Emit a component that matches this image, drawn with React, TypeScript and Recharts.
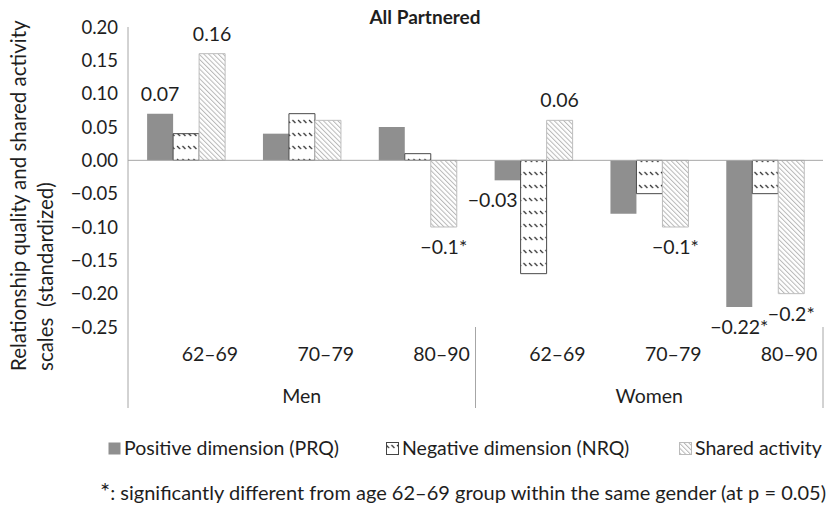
import React from 'react';
import { BarChart, Bar, XAxis, YAxis, ReferenceLine, LabelList } from 'recharts';

// categories (two-level axis: age group within gender)
const ageGroups = ['62–69', '70–79', '80–90', '62–69', '70–79', '80–90'];
const genders = ['Men', 'Men', 'Men', 'Women', 'Women', 'Women'];

// series values (standardized scales)
const prqValues = [0.07, 0.04, 0.05, -0.03, -0.08, -0.22];
const nrqValues = [0.04, 0.07, 0.01, -0.17, -0.05, -0.05];
const sharedValues = [0.16, 0.06, -0.1, 0.06, -0.1, -0.2];

// data labels shown in the figure ('' = none)
const prqLabels = ['0.07', '', '', '−0.03', '', '−0.22*'];
const nrqLabels = ['', '', '', '', '', ''];
const sharedLabels = ['0.16', '', '−0.1*', '0.06', '−0.1*', '−0.2*'];

const yTicks = [0.2, 0.15, 0.1, 0.05, 0, -0.05, -0.1, -0.15, -0.2, -0.25];
const seriesNames = ['Positive dimension (PRQ)', 'Negative dimension (NRQ)', 'Shared activity'];

const W = 827;
const H = 507;
const PLOT_LEFT = 128;
const PLOT_RIGHT = 823;
const PLOT_TOP = 27;
const PLOT_BOTTOM = 327;
const Y_AXIS_W = 60;
const X_AXIS_H = 30;
const FONT = 'Lato, "Open Sans", sans-serif';
const FS = 19.5;
const TEXT = '#1e1e1e';
const AXIS = '#a6a6a6';

const data = ageGroups.map((age, i) => ({
  key: `${genders[i]}-${age}`,
  age,
  gender: genders[i],
  prq: prqValues[i],
  nrq: nrqValues[i],
  shared: sharedValues[i],
}));

const fmtTick = (v: number) => (v < 0 ? '−' + Math.abs(v).toFixed(2) : v.toFixed(2));

const CategoryTick = (props: any) => {
  const { x, y, payload } = props;
  const i = payload.index;
  const half = (PLOT_RIGHT - PLOT_LEFT) / ageGroups.length / 2;
  const g = genders[i];
  const members = genders.map((v, j) => (v === g ? j : -1)).filter((j) => j >= 0);
  const isLast = members[members.length - 1] === i;
  const isMiddle = members[Math.floor(members.length / 2)] === i;
  const top = y - 8;
  return (
    <g>
      <text x={x + 24} y={y + 26} textAnchor="middle" fontFamily={FONT} fontSize={FS} fill={TEXT}>
        {ageGroups[i]}
      </text>
      {isMiddle && (
        <text x={x} y={y + 68} textAnchor="middle" fontFamily={FONT} fontSize={FS} fill={TEXT}>
          {g}
        </text>
      )}
      {i === 0 && <line x1={x - half} x2={x - half} y1={top} y2={top + 81} stroke={AXIS} />}
      {isLast && <line x1={x + half} x2={x + half} y1={top} y2={top + 81} stroke={AXIS} />}
    </g>
  );
};

const makeLabel = (texts: string[]) => (props: any) => {
  const { x, y, width, height, value, index } = props;
  const t = texts[index];
  if (!t) return null;
  const top = Math.min(y, y + height);
  const bottom = Math.max(y, y + height);
  const neg = value < 0;
  const short = bottom - top < 25;
  let tx = x + width / 2;
  let anchor: 'middle' | 'end' = 'middle';
  if (neg && short) {
    tx = x + width - 3;
    anchor = 'end';
  }
  const ty = neg ? bottom + 27 : top - 13;
  return (
    <text x={tx} y={ty} textAnchor={anchor} fontFamily={FONT} fontSize={FS} fill={TEXT}>
      {t}
    </text>
  );
};

const Patterns = () => (
  <svg width={0} height={0} style={{ position: 'absolute' }}>
    <defs>
      <pattern id="nrqPat" patternUnits="userSpaceOnUse" width={5.5} height={13}>
        <rect width={5.5} height={13} fill="#fff" />
        <line x1={1} y1={3} x2={4} y2={6} stroke="#2a2a2a" strokeWidth={1.1} />
      </pattern>
      <pattern id="sharedPat" patternUnits="userSpaceOnUse" width={3.4} height={8} patternTransform="rotate(-45)">
        <rect width={3.4} height={8} fill="#fff" />
        <line x1={0.5} y1={0} x2={0.5} y2={8} stroke="#b8b8b8" strokeWidth={1} />
      </pattern>
    </defs>
  </svg>
);

const Overlay = () => {
  const legendY = 455;
  const items = [
    { x: 108, fill: '#8f8f8f', stroke: 'none' },
    { x: 386, fill: 'url(#nrqPat)', stroke: '#444' },
    { x: 679, fill: 'url(#sharedPat)', stroke: '#bbb' },
  ];
  return (
    <svg width={W} height={H} style={{ position: 'absolute', left: 0, top: 0, pointerEvents: 'none' }}>
      <text x={425} y={24} textAnchor="middle" fontFamily={FONT} fontSize={19} fontWeight={700} fill={TEXT}>
        All Partnered
      </text>
      <text transform="translate(26,371) rotate(-90)" fontFamily={FONT} fontSize={20.5} fill={TEXT}>
        Relationship quality and shared activity
      </text>
      <text transform="translate(53,371) rotate(-90)" fontFamily={FONT} fontSize={20.5} fill={TEXT} style={{ whiteSpace: 'pre' }}>
        {'scales  (standardized)'}
      </text>
      {items.map((it, i) => (
        <g key={seriesNames[i]}>
          <rect x={it.x + 0.5} y={442.5} width={12} height={12} fill={it.fill} stroke={it.stroke} />
          <text x={it.x + 16} y={legendY} fontFamily={FONT} fontSize={FS} fill={TEXT}>
            {seriesNames[i]}
          </text>
        </g>
      ))}
      <text x={100} y={500} fontFamily={FONT} fontSize={20} fill={TEXT}>
        <tspan fontSize={24}>*</tspan>: significantly different from age 62–69 group within the same gender (at p = 0.05)
      </text>
    </svg>
  );
};

export default function App() {
  return (
    <div style={{ position: 'absolute', left: 0, top: 0, width: W, height: H, background: '#fff' }}>
      <Patterns />
      <BarChart
        width={W}
        height={H}
        data={data}
        margin={{
          top: PLOT_TOP,
          right: W - PLOT_RIGHT,
          left: PLOT_LEFT - Y_AXIS_W,
          bottom: H - PLOT_BOTTOM - X_AXIS_H,
        }}
        barCategoryGap="16.5%"
        barGap={0}
      >
        <XAxis
          dataKey="key"
          height={X_AXIS_H}
          axisLine={false}
          tickLine={false}
          interval={0}
          tick={<CategoryTick />}
        />
        <YAxis
          width={Y_AXIS_W}
          domain={[-0.25, 0.2]}
          ticks={yTicks}
          tickFormatter={fmtTick}
          axisLine={{ stroke: AXIS }}
          tickLine={false}
          tickMargin={4}
          tick={{ fontFamily: FONT, fontSize: 18.5, fill: TEXT }}
          allowDataOverflow
        />
        <ReferenceLine y={0} stroke={AXIS} />
        <Bar dataKey="prq" fill="#8f8f8f" isAnimationActive={false}>
          <LabelList content={makeLabel(prqLabels)} />
        </Bar>
        <Bar dataKey="nrq" fill="url(#nrqPat)" stroke="#4a4a4a" strokeWidth={1} isAnimationActive={false}>
          <LabelList content={makeLabel(nrqLabels)} />
        </Bar>
        <Bar dataKey="shared" fill="url(#sharedPat)" stroke="#bdbdbd" strokeWidth={1} isAnimationActive={false}>
          <LabelList content={makeLabel(sharedLabels)} />
        </Bar>
      </BarChart>
      <Overlay />
    </div>
  );
}
